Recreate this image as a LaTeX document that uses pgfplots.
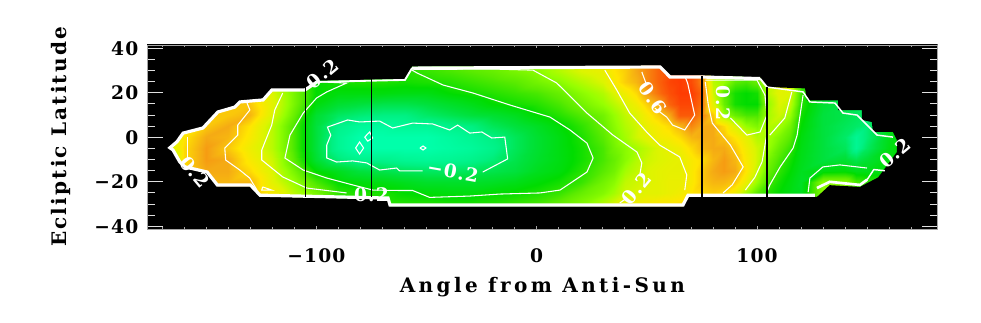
\documentclass[border=0pt]{standalone}
\usepackage{fontspec}
\usepackage{pgfplots}
\pgfplotsset{compat=1.18}
\setmainfont{DejaVu Serif}
\newfontfamily\xlf[LetterSpace=17]{DejaVu Serif}
\newfontfamily\ylf[LetterSpace=11]{DejaVu Serif}
\newfontfamily\tkf[LetterSpace=6]{DejaVu Serif}
\pgfplotstableread[row sep=\\]{
x y z\\
-170 35 5\\-170 30 5\\-170 25 5\\-170 20 5\\-170 15 5\\-170 10 5\\-170 5 5\\-170 0 20\\-170 -5 20\\-170 -10 5\\-170 -15 5\\-170 -20 5\\-170 -25 5\\-170 -30 5\\-170 -35 5\\
-160 35 38\\-160 30 38\\-160 25 38\\-160 20 38\\-160 15 38\\-160 10 38\\-160 5 38\\-160 0 40\\-160 -5 42\\-160 -10 42\\-160 -15 42\\-160 -20 40\\-160 -25 40\\-160 -30 40\\-160 -35 40\\
-150 35 45\\-150 30 45\\-150 25 45\\-150 20 45\\-150 15 45\\-150 10 45\\-150 5 45\\-150 0 50\\-150 -5 52\\-150 -10 52\\-150 -15 50\\-150 -20 48\\-150 -25 48\\-150 -30 48\\-150 -35 48\\
-140 35 45\\-140 30 45\\-140 25 45\\-140 20 45\\-140 15 45\\-140 10 45\\-140 5 50\\-140 0 48\\-140 -5 45\\-140 -10 50\\-140 -15 50\\-140 -20 48\\-140 -25 48\\-140 -30 48\\-140 -35 48\\
-130 35 45\\-130 30 45\\-130 25 45\\-130 20 45\\-130 15 45\\-130 10 48\\-130 5 40\\-130 0 38\\-130 -5 35\\-130 -10 38\\-130 -15 42\\-130 -20 48\\-130 -25 48\\-130 -30 48\\-130 -35 48\\
-120 35 30\\-120 30 30\\-120 25 30\\-120 20 30\\-120 15 32\\-120 10 30\\-120 5 25\\-120 0 25\\-120 -5 25\\-120 -10 28\\-120 -15 30\\-120 -20 32\\-120 -25 38\\-120 -30 38\\-120 -35 38\\
-110 35 15\\-110 30 15\\-110 25 15\\-110 20 15\\-110 15 15\\-110 10 12\\-110 5 8\\-110 0 8\\-110 -5 8\\-110 -10 10\\-110 -15 15\\-110 -20 20\\-110 -25 25\\-110 -30 25\\-110 -35 25\\
-100 35 0\\-100 30 0\\-100 25 0\\-100 20 0\\-100 15 -2\\-100 10 -8\\-100 5 -10\\-100 0 -10\\-100 -5 -10\\-100 -10 -8\\-100 -15 0\\-100 -20 8\\-100 -25 15\\-100 -30 15\\-100 -35 15\\
-90 35 2\\-90 30 2\\-90 25 2\\-90 20 -2\\-90 15 -8\\-90 10 -15\\-90 5 -22\\-90 0 -24\\-90 -5 -24\\-90 -10 -18\\-90 -15 -5\\-90 -20 0\\-90 -25 5\\-90 -30 5\\-90 -35 5\\
-80 35 3\\-80 30 3\\-80 25 3\\-80 20 -2\\-80 15 -10\\-80 10 -18\\-80 5 -26\\-80 0 -30\\-80 -5 -30\\-80 -10 -22\\-80 -15 -10\\-80 -20 -2\\-80 -25 3\\-80 -30 3\\-80 -35 3\\
-70 35 4\\-70 30 4\\-70 25 3\\-70 20 -2\\-70 15 -12\\-70 10 -20\\-70 5 -27\\-70 0 -30\\-70 -5 -30\\-70 -10 -22\\-70 -15 -12\\-70 -20 -3\\-70 -25 3\\-70 -30 5\\-70 -35 5\\
-60 35 4\\-60 30 4\\-60 25 2\\-60 20 -3\\-60 15 -12\\-60 10 -20\\-60 5 -25\\-60 0 -30\\-60 -5 -30\\-60 -10 -24\\-60 -15 -14\\-60 -20 -5\\-60 -25 0\\-60 -30 4\\-60 -35 4\\
-50 35 6\\-50 30 6\\-50 25 3\\-50 20 -3\\-50 15 -10\\-50 10 -16\\-50 5 -25\\-50 0 -30\\-50 -5 -30\\-50 -10 -25\\-50 -15 -15\\-50 -20 -7\\-50 -25 -1\\-50 -30 4\\-50 -35 4\\
-40 35 8\\-40 30 8\\-40 25 4\\-40 20 0\\-40 15 -7\\-40 10 -13\\-40 5 -22\\-40 0 -27\\-40 -5 -28\\-40 -10 -24\\-40 -15 -15\\-40 -20 -7\\-40 -25 -2\\-40 -30 3\\-40 -35 3\\
-30 35 10\\-30 30 10\\-30 25 6\\-30 20 2\\-30 15 -4\\-30 10 -10\\-30 5 -20\\-30 0 -24\\-30 -5 -26\\-30 -10 -22\\-30 -15 -14\\-30 -20 -7\\-30 -25 -2\\-30 -30 3\\-30 -35 3\\
-20 35 12\\-20 30 12\\-20 25 8\\-20 20 4\\-20 15 0\\-20 10 -8\\-20 5 -14\\-20 0 -20\\-20 -5 -22\\-20 -10 -18\\-20 -15 -12\\-20 -20 -6\\-20 -25 0\\-20 -30 4\\-20 -35 4\\
-10 35 15\\-10 30 15\\-10 25 10\\-10 20 6\\-10 15 2\\-10 10 -5\\-10 5 -10\\-10 0 -14\\-10 -5 -14\\-10 -10 -12\\-10 -15 -10\\-10 -20 -4\\-10 -25 1\\-10 -30 6\\-10 -35 6\\
0 35 18\\0 30 18\\0 25 14\\0 20 8\\0 15 4\\0 10 0\\0 5 -6\\0 0 -8\\0 -5 -8\\0 -10 -7\\0 -15 -5\\0 -20 -1\\0 -25 3\\0 -30 8\\0 -35 8\\
10 35 24\\10 30 24\\10 25 18\\10 20 12\\10 15 8\\10 10 4\\10 5 -1\\10 0 -3\\10 -5 -3\\10 -10 -3\\10 -15 -2\\10 -20 2\\10 -25 6\\10 -30 12\\10 -35 12\\
20 35 30\\20 30 30\\20 25 24\\20 20 18\\20 15 14\\20 10 9\\20 5 5\\20 0 3\\20 -5 2\\20 -10 2\\20 -15 4\\20 -20 6\\20 -25 12\\20 -30 17\\20 -35 17\\
30 35 34\\30 30 34\\30 25 30\\30 20 24\\30 15 20\\30 10 14\\30 5 12\\30 0 10\\30 -5 8\\30 -10 8\\30 -15 10\\30 -20 14\\30 -25 17\\30 -30 25\\30 -35 25\\
35 35 40\\35 30 40\\35 25 38\\35 20 30\\35 15 25\\35 10 20\\35 5 18\\35 0 16\\35 -5 14\\35 -10 12\\35 -15 14\\35 -20 18\\35 -25 22\\35 -30 30\\35 -35 30\\
40 35 44\\40 30 44\\40 25 44\\40 20 36\\40 15 30\\40 10 26\\40 5 24\\40 0 22\\40 -5 18\\40 -10 18\\40 -15 22\\40 -20 26\\40 -25 28\\40 -30 35\\40 -35 35\\
45 35 50\\45 30 50\\45 25 48\\45 20 42\\45 15 36\\45 10 30\\45 5 28\\45 0 28\\45 -5 22\\45 -10 24\\45 -15 26\\45 -20 28\\45 -25 30\\45 -30 36\\45 -35 36\\
50 35 55\\50 30 55\\50 25 55\\50 20 52\\50 15 44\\50 10 38\\50 5 34\\50 0 32\\50 -5 26\\50 -10 28\\50 -15 30\\50 -20 30\\50 -25 32\\50 -30 38\\50 -35 38\\
55 35 60\\55 30 60\\55 25 60\\55 20 58\\55 15 50\\55 10 44\\55 5 38\\55 0 36\\55 -5 30\\55 -10 30\\55 -15 32\\55 -20 32\\55 -25 32\\55 -30 40\\55 -35 40\\
60 35 64\\60 30 64\\60 25 66\\60 20 64\\60 15 60\\60 10 50\\60 5 42\\60 0 38\\60 -5 33\\60 -10 32\\60 -15 33\\60 -20 34\\60 -25 34\\60 -30 40\\60 -35 40\\
65 35 68\\65 30 68\\65 25 68\\65 20 68\\65 15 66\\65 10 62\\65 5 48\\65 0 42\\65 -5 36\\65 -10 33\\65 -15 33\\65 -20 34\\65 -25 36\\65 -30 42\\65 -35 42\\
70 35 65\\70 30 65\\70 25 65\\70 20 68\\70 15 66\\70 10 62\\70 5 55\\70 0 48\\70 -5 42\\70 -10 38\\70 -15 38\\70 -20 38\\70 -25 40\\70 -30 42\\70 -35 42\\
75 35 55\\75 30 55\\75 25 55\\75 20 60\\75 15 58\\75 10 55\\75 5 50\\75 0 50\\75 -5 48\\75 -10 42\\75 -15 45\\75 -20 45\\75 -25 42\\75 -30 42\\75 -35 42\\
80 35 25\\80 30 25\\80 25 25\\80 20 28\\80 15 32\\80 10 45\\80 5 50\\80 0 50\\80 -5 50\\80 -10 48\\80 -15 50\\80 -20 48\\80 -25 44\\80 -30 44\\80 -35 44\\
85 35 20\\85 30 20\\85 25 20\\85 20 10\\85 15 12\\85 10 20\\85 5 42\\85 0 46\\85 -5 50\\85 -10 52\\85 -15 52\\85 -20 48\\85 -25 42\\85 -30 42\\85 -35 42\\
90 35 10\\90 30 10\\90 25 10\\90 20 2\\90 15 2\\90 10 12\\90 5 30\\90 0 40\\90 -5 45\\90 -10 48\\90 -15 50\\90 -20 45\\90 -25 35\\90 -30 35\\90 -35 35\\
95 35 8\\95 30 8\\95 25 8\\95 20 0\\95 15 0\\95 10 8\\95 5 20\\95 0 32\\95 -5 36\\95 -10 38\\95 -15 40\\95 -20 34\\95 -25 22\\95 -30 22\\95 -35 22\\
100 35 12\\100 30 12\\100 25 12\\100 20 2\\100 15 0\\100 10 8\\100 5 16\\100 0 24\\100 -5 28\\100 -10 28\\100 -15 26\\100 -20 20\\100 -25 10\\100 -30 10\\100 -35 10\\
105 35 30\\105 30 30\\105 25 30\\105 20 25\\105 15 20\\105 10 22\\105 5 24\\105 0 22\\105 -5 20\\105 -10 15\\105 -15 12\\105 -20 8\\105 -25 4\\105 -30 4\\105 -35 4\\
110 35 30\\110 30 30\\110 25 30\\110 20 32\\110 15 30\\110 10 28\\110 5 22\\110 0 16\\110 -5 12\\110 -10 8\\110 -15 5\\110 -20 2\\110 -25 0\\110 -30 0\\110 -35 0\\
115 35 30\\115 30 30\\115 25 30\\115 20 30\\115 15 26\\115 10 20\\115 5 14\\115 0 10\\115 -5 6\\115 -10 2\\115 -15 0\\115 -20 -2\\115 -25 -3\\115 -30 -3\\115 -35 -3\\
120 35 6\\120 30 6\\120 25 6\\120 20 6\\120 15 4\\120 10 2\\120 5 0\\120 0 -2\\120 -5 -3\\120 -10 -4\\120 -15 -5\\120 -20 -6\\120 -25 -5\\120 -30 -5\\120 -35 -5\\
130 35 -8\\130 30 -8\\130 25 -8\\130 20 -8\\130 15 -8\\130 10 -10\\130 5 -10\\130 0 -10\\130 -5 -10\\130 -10 -10\\130 -15 -2\\130 -20 18\\130 -25 18\\130 -30 18\\130 -35 18\\
140 35 -12\\140 30 -12\\140 25 -12\\140 20 -12\\140 15 -12\\140 10 -12\\140 5 -14\\140 0 -16\\140 -5 -14\\140 -10 -8\\140 -15 -1\\140 -20 18\\140 -25 18\\140 -30 18\\140 -35 18\\
145 35 -14\\145 30 -14\\145 25 -14\\145 20 -14\\145 15 -14\\145 10 -14\\145 5 -16\\145 0 -24\\145 -5 -24\\145 -10 -12\\145 -15 -4\\145 -20 8\\145 -25 8\\145 -30 8\\145 -35 8\\
150 35 -16\\150 30 -16\\150 25 -16\\150 20 -16\\150 15 -16\\150 10 -16\\150 5 -18\\150 0 -18\\150 -5 -15\\150 -10 -8\\150 -15 -4\\150 -20 5\\150 -25 5\\150 -30 5\\150 -35 5\\
160 35 -2\\160 30 -2\\160 25 -2\\160 20 -2\\160 15 -2\\160 10 -2\\160 5 -2\\160 0 -4\\160 -5 -3\\160 -10 -2\\160 -15 -2\\160 -20 -2\\160 -25 -2\\160 -30 -2\\160 -35 -2\\
170 35 2\\170 30 2\\170 25 2\\170 20 2\\170 15 2\\170 10 2\\170 5 2\\170 0 2\\170 -5 2\\170 -10 2\\170 -15 2\\170 -20 2\\170 -25 2\\170 -30 2\\170 -35 2\\
}\gridtable
\begin{document}
\begin{tikzpicture}[x=1pt,y=1pt]
\path[use as bounding box] (0,0) rectangle (735.75pt,242.25pt);
\begin{axis}[
  at={(110.25pt,70.5pt)}, anchor=south west, scale only axis,
  width=593pt, height=138pt,
  xmin=-176.9, xmax=182, ymin=-41.2, ymax=41.5,
  axis background/.style={fill=black},
  axis on top, clip=true,
  axis line style={color=black!35, line width=0.6pt},
  tick align=inside,
  xtick={-100,0,100}, xticklabels={−100,0,100},
  minor xtick={-170,-160,-150,-140,-130,-120,-110,-90,-80,-70,-60,-50,-40,-30,-20,-10,10,20,30,40,50,60,70,80,90,110,120,130,140,150,160,170},
  ytick={-40,-20,0,20,40}, yticklabels={−40,−20,0,20,40},
  minor ytick={-35,-30,-25,-15,-10,-5,5,10,15,25,30,35},
  x tick style={color=black!35, line width=0.6pt, /pgfplots/major tick length=2.5pt, /pgfplots/minor tick length=1.2pt},
  y tick style={color=black!12, line width=0.75pt, /pgfplots/major tick length=12pt, /pgfplots/minor tick length=6pt},
  tick label style={font=\tkf\bfseries\fontsize{14}{14}\selectfont},
  xticklabel style={yshift=-11pt},
  yticklabel style={xshift=-3pt},
  xlabel={Angle from Anti-Sun}, ylabel={Ecliptic Latitude},
  xlabel style={font=\xlf\bfseries\fontsize{15}{16}\selectfont, at={(axis description cs:0.5,-0.315)}, anchor=center},
  ylabel style={font=\ylf\bfseries\fontsize{15}{16}\selectfont, at={(axis description cs:-0.109,0.5)}, anchor=center},
  colormap={sm}{rgb255(0)=(0,255,170) rgb255(10)=(0,240,130) rgb255(20)=(0,225,60) rgb255(30)=(0,220,0) rgb255(40)=(90,235,0) rgb255(50)=(150,255,0) rgb255(60)=(220,245,0) rgb255(70)=(255,230,0) rgb255(80)=(245,170,20) rgb255(90)=(250,100,10) rgb255(100)=(255,50,0)},
  point meta min=-30, point meta max=70,
]
\addplot[surf, shader=interp, mesh/rows=15, mesh/cols=45, mesh/ordering=y varies, mesh/check=false, point meta=explicit, forget plot]
  table[x=x, y=y, meta=z] {\gridtable};
% black outside the sampled region
\addplot[fill=black, draw=none, even odd rule, forget plot] coordinates {
(-178,-43)(183,-43)(183,43)(-178,43)(-178,-43)
(-167,-4.7)(-163.3,-1.5)(-160.5,2.4)(-151.5,4.7)(-144.7,11.9)(-137,14.1)(-134.7,16.4)(-124.2,17.3)(-120.2,21.8)(-105.2,21.8)(-99.7,25.4)(-59.8,26.3)(-56.6,31.8)(56,32.2)(60.5,27.8)(75,27.8)(101.4,27)(104.5,22.6)(121.8,22)(122.7,16.6)(136.8,16.6)(136.8,12.2)(147.6,12.2)(147.6,7.8)(152.1,6.9)(152.6,2.4)(161.7,2.4)(163.5,-1.2)(163.5,-6.6)(158,-14)(155,-18)(146.7,-22.3)(133,-21.5)(127.2,-26.8)(125,-26.8)(68.7,-26.7)(66.4,-31)(-66.6,-31)(-67.5,-27.9)(-125.6,-26.6)(-130,-22)(-145,-22)(-149.6,-16.2)(-159.6,-13.9)(-162,-11.7)(-165.6,-5.7)(-167,-4.7)
(-178,-43)};
% region outline
\addplot[white, line width=2.4pt, forget plot] coordinates {
(101.4,26.4)(75,27.1)(60.5,27.1)(56,31.6)(-56.6,31.1)};
\addplot[white, line width=1.4pt, forget plot] coordinates {(104.5,22.6)(101.4,26.4)};
\addplot[white, line width=1.4pt, forget plot] coordinates {(-56.6,31.1)(-59.8,25.8)(-99.7,24.9)};
\addplot[white, line width=2.4pt, forget plot] coordinates {
(-99.7,24.9)(-105.2,21.3)(-120.2,21.3)(-124.2,16.8)(-134.7,15.9)(-137,13.6)(-144.7,11.4)(-151.5,4.2)(-160.5,1.9)(-163.3,-2)(-166.5,-4.7)(-165.1,-5.7)(-162,-11.1)(-159.6,-13.3)(-149.6,-15.6)(-145,-21.4)(-130,-21.4)(-125.6,-26)(-67.5,-27.3)(-66.6,-30.4)(66.4,-30.4)(68.7,-26)(126.3,-26)};
\addplot[white, line width=1.1pt, forget plot] coordinates {(104.5,22.6)(120.9,20.4)(124,15.9)(135.4,15.4)(139,10.9)(145.4,10)(154.5,1)(161.7,0.1)};
\addplot[white, line width=2pt, forget plot] coordinates {(127.2,-22.8)(133,-20)(146.7,-21.4)(150,-19)};
\addplot[white, line width=1.1pt, forget plot] coordinates {(150,-19)(153,-14.5)(158,-15)};
% contours
\addplot[white, line width=0.8pt, forget plot] coordinates {(-24.5,-15.6)(-13.2,-9.7)(-13.6,-6.6)(-14.5,0.1)(-20.4,-0.3)(-24.9,2.4)(-30.4,1.9)(-35.9,5.5)(-39.5,3.3)(-47.2,6)(-56.3,6.4)(-65.4,4.2)(-71.3,7.3)(-80.4,6.9)(-85.8,7.8)(-95,4.6)(-93.5,1)(-95.3,-3.5)(-95.3,-9.3)(-90.8,-11.1)(-83.5,-10.6)(-77.2,-11.5)(-71.3,-14.7)(-63.6,-13.8)(-62.2,-15.1)(-51.8,-15.1)};
\addplot[white, line width=0.8pt, forget plot] coordinates {(-82.2,-4.8)(-80.4,-2.1)(-78.6,-4.8)(-80.4,-7.5)(-82.2,-4.8)};
\addplot[white, line width=0.8pt, forget plot] coordinates {(-78.1,0.1)(-75.8,2.4)(-74.5,-0.3)(-76.7,-1.7)(-78.1,0.1)};
\addplot[white, line width=0.8pt, forget plot] coordinates {(-53,-4.8)(-51.6,-3.9)(-50.3,-4.8)(-51.6,-5.7)(-53,-4.8)};
\addplot[white, line width=0.8pt, forget plot] coordinates {(-100,25)(-86.3,24.4)(-95.3,20.4)(-99.9,17.7)(-106,10.9)(-112,1)(-114.3,-9.3)(-106,-14.7)(-95.3,-18.3)(-83.5,-21.4)(-74.4,-23.7)(-62.2,-23.9)(-56.3,-23.9)(-48.6,-27)(-30.4,-26.4)(-16.8,-25.5)(1.5,-25)(10.6,-23.7)(22.8,-15.6)(25.6,-9.3)(22.8,-2.6)(15.1,3.3)(6,9.1)(-12.1,14.5)(-28.9,19.9)(-42.5,23.5)(-54.3,28.9)(-56.6,30.2)};
\addplot[white, line width=0.8pt, forget plot] coordinates {(-56,30.5)(-20,30.7)(-1.7,30.2)(9.1,24.4)(22.8,10.9)(34.6,1)(45.5,-6.6)(47.7,-11.5)(46.8,-16.9)};
\addplot[white, line width=0.8pt, forget plot] coordinates {(40.9,-27.3)(37.7,-29.5)};
\addplot[white, line width=0.8pt, forget plot] coordinates {(-115.3,19.9)(-118.9,12.3)(-120.3,5.5)(-124.8,-5.7)(-124.8,-10.2)(-115.3,-17.8)(-104.4,-22.8)(-86.3,-25)};
\addplot[white, line width=0.8pt, forget plot] coordinates {(-131.5,15.4)(-130.2,12.3)(-135.7,5.5)(-135.7,1)(-141.6,-4.8)(-141.2,-10.2)(-134.8,-14.7)(-130.3,-18.3)(-127,-23.7)};
\addplot[white, line width=0.8pt, forget plot] coordinates {(-124.4,-22.3)(-120.3,-23.7)(-124.8,-23.7)(-124.4,-22.3)};
\addplot[white, line width=0.8pt, forget plot] coordinates {(-158.4,0.1)(-158.4,-10.2)};
\addplot[white, line width=0.8pt, forget plot] coordinates {(30.9,30.2)(36.3,21.3)(42.2,10.9)(49.9,2.4)(55.8,-3.5)(64.9,-8.8)(68.1,-16.9)(67.2,-23.7)};
\addplot[white, line width=0.8pt, forget plot] coordinates {(47.7,29.4)(49.9,23.5)};
\addplot[white, line width=0.8pt, forget plot] coordinates {(53.6,13.1)(59,9.1)(61.7,5.5)(67.2,3.3)(71.7,10)(68.5,24.4)(67.6,26.6)};
\addplot[white, line width=0.8pt, forget plot] coordinates {(76.5,24.9)(77.9,14.5)(79.7,6.4)(87.9,-3.5)(93.7,-13.3)(88.7,-21.4)(84.6,-25)};
\addplot[white, line width=0.8pt, forget plot] coordinates {(76.5,25.7)(100,25.7)(103.6,19)(104.5,10)(101.4,2.4)(95.4,1)(87.9,8.7)};
\addplot[white, line width=0.8pt, forget plot] coordinates {(115.8,20.4)(112.6,8.7)(105.8,1)};
\addplot[white, line width=0.8pt, forget plot] coordinates {(104.5,10)(104.2,0)(102.3,-11)(99,-18)(94.7,-23.7)};
\addplot[white, line width=0.8pt, forget plot] coordinates {(120.9,19)(118.2,1)(116.4,-4.8)(110.5,-13.3)(105.8,-21.4)(104.5,-24.6)};
\addplot[white, line width=0.8pt, forget plot] coordinates {(123.2,-24.6)(124,-18.3)(129.9,-13.3)(137.6,-12.4)(149.9,-13.8)};
% black meridians
\addplot[black, line width=1.1pt, forget plot] coordinates {(-105,22.5)(-105,-27)};
\addplot[black, line width=1.1pt, forget plot] coordinates {(-75,27.5)(-75,-27)};
\addplot[black, line width=1.1pt, forget plot] coordinates {(75,27.5)(75,-27)};
\addplot[black, line width=1.1pt, forget plot] coordinates {(104.5,22.5)(104.5,-27)};
% contour labels
\tikzset{cl/.style={text=white, font=\tkf\bfseries\fontsize{14}{14}\selectfont, inner sep=0pt}}
\node[cl, rotate=40] at (axis cs:-97.3,28.6) {0.2};
\node[cl, rotate=-50] at (axis cs:-155,-15.6) {0.2};
\node[cl, rotate=0] at (axis cs:-75,-26) {0.2};
\node[cl, rotate=-10] at (axis cs:-38,-15.4) {−0.2};
\node[cl, rotate=50] at (axis cs:45.3,-23.2) {0.2};
\node[cl, rotate=-55] at (axis cs:52.7,17.7) {0.6};
\node[cl, rotate=-90] at (axis cs:84.6,15.4) {0.2};
\node[cl, rotate=40] at (axis cs:162.6,-7) {0.2};
\end{axis}
\end{tikzpicture}
\end{document}
